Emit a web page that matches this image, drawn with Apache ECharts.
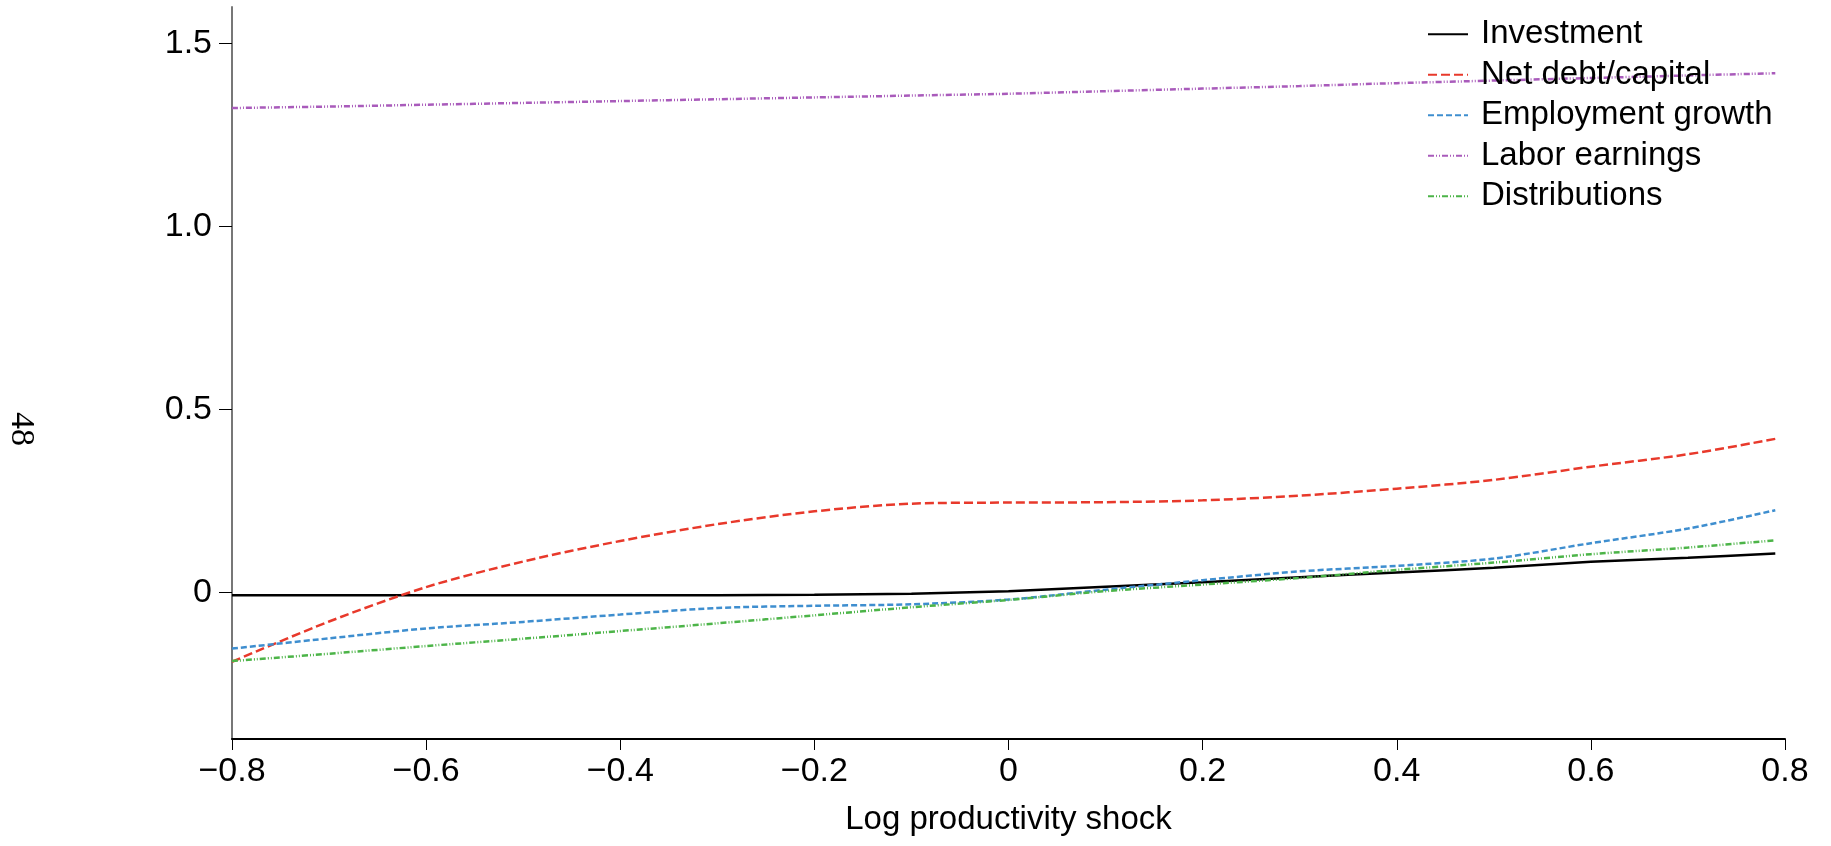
<!DOCTYPE html>
<html>
<head>
<meta charset="utf-8">
<script src="https://cdn.jsdelivr.net/npm/echarts@6/dist/echarts.min.js"></script>
<style>
  html, body { margin: 0; padding: 0; background: #fff; }
  #chart { width: 1831px; height: 846px; }
</style>
</head>
<body>
<div id="chart"></div>
<script>
// shock grid
var shocks = [-0.8, -0.7, -0.6, -0.5, -0.4, -0.3, -0.2, -0.1, 0, 0.1, 0.2, 0.3, 0.4, 0.5, 0.6, 0.7, 0.79];

var investment   = [-0.007, -0.007, -0.007, -0.007, -0.007, -0.007, -0.006, -0.003, 0.004, 0.016, 0.028, 0.042, 0.055, 0.068, 0.084, 0.095, 0.107];
var netDebt      = [-0.189, -0.079, 0.015, 0.085, 0.141, 0.187, 0.222, 0.243, 0.246, 0.247, 0.252, 0.265, 0.284, 0.308, 0.344, 0.378, 0.42];
var employment   = [-0.153, -0.125, -0.098, -0.080, -0.060, -0.042, -0.036, -0.032, -0.019, 0.008, 0.034, 0.058, 0.073, 0.093, 0.135, 0.175, 0.225];
var laborEarn    = [1.324, 1.328, 1.333, 1.338, 1.343, 1.348, 1.353, 1.358, 1.363, 1.370, 1.377, 1.384, 1.392, 1.399, 1.406, 1.413, 1.419];
var distributions = [-0.187, -0.167, -0.146, -0.126, -0.105, -0.084, -0.062, -0.040, -0.020, 0.004, 0.022, 0.040, 0.062, 0.082, 0.105, 0.123, 0.143];

var yTicks = [0, 0.5, 1, 1.5];

function pairs(vals) {
  return shocks.map(function (x, i) { return [x, vals[i]]; });
}

var font = 'Liberation Sans, Arial, Helvetica, sans-serif';

function mkSeries(name, vals, color, dash) {
  return {
    name: name,
    type: 'line',
    data: pairs(vals),
    smooth: 0.3,
    showSymbol: false,
    symbol: 'none',
    lineStyle: { color: color, width: 2.5, type: dash },
    itemStyle: { color: color },
    z: 3
  };
}

var myChart = echarts.init(document.getElementById('chart'));

var option = {
  backgroundColor: '#fff',
  animation: false,
  grid: { left: 232, right: 46, top: 7, bottom: 107 },
  legend: {
    show: true,
    orient: 'vertical',
    left: 1427,
    top: 14,
    padding: 0,
    itemWidth: 40,
    itemHeight: 14,
    itemGap: 0,
    itemStyle: { opacity: 0 },
    textStyle: { fontFamily: font, fontSize: 33, color: '#000', lineHeight: 40.5, padding: [0, 0, 0, 8] },
    data: ['Investment', 'Net debt/capital', 'Employment growth', 'Labor earnings', 'Distributions']
  },
  xAxis: {
    type: 'value',
    min: -0.8,
    max: 0.8,
    interval: 0.2,
    name: 'Log productivity shock',
    nameLocation: 'middle',
    nameGap: 64,
    nameTextStyle: { fontFamily: font, fontSize: 33, color: '#000' },
    axisLine: { onZero: false, lineStyle: { color: '#000', width: 2 } },
    axisTick: { show: true, length: 11, lineStyle: { color: '#000', width: 1 } },
    axisLabel: {
      fontFamily: font, fontSize: 34, color: '#000', margin: 16,
      formatter: function (v) {
        if (Math.abs(v) < 1e-9) return '0';
        return (v < 0 ? '\u2212' : '') + Math.abs(v).toFixed(1);
      }
    },
    splitLine: { show: false }
  },
  yAxis: {
    type: 'value',
    min: -0.4,
    max: 1.6,
    axisLine: { show: true, onZero: false, lineStyle: { color: '#777', width: 2 } },
    axisTick: { show: true, length: 13, customValues: yTicks, lineStyle: { color: '#000', width: 1 } },
    axisLabel: {
      fontFamily: font, fontSize: 34, color: '#000', margin: 20,
      customValues: yTicks,
      formatter: function (v) {
        if (Math.abs(v) < 1e-9) return '0';
        return v.toFixed(1);
      }
    },
    splitLine: { show: false }
  },
  graphic: [{
    type: 'text',
    x: 21,
    y: 429,
    rotation: -Math.PI / 2,
    style: {
      text: '48',
      fontFamily: 'Liberation Serif, DejaVu Serif, serif',
      fontSize: 34,
      fill: '#000',
      align: 'center',
      verticalAlign: 'middle'
    }
  }],
  series: [
    mkSeries('Investment', investment, '#000000', 'solid'),
    mkSeries('Net debt/capital', netDebt, '#e8392b', [9, 4]),
    mkSeries('Employment growth', employment, '#3e8ecf', [6, 3]),
    mkSeries('Labor earnings', laborEarn, '#a95bbb', [6, 2, 1, 2, 1, 2]),
    mkSeries('Distributions', distributions, '#4cb448', [6, 2, 1, 2, 1, 2])
  ]
};

myChart.setOption(option);
</script>
</body>
</html>
